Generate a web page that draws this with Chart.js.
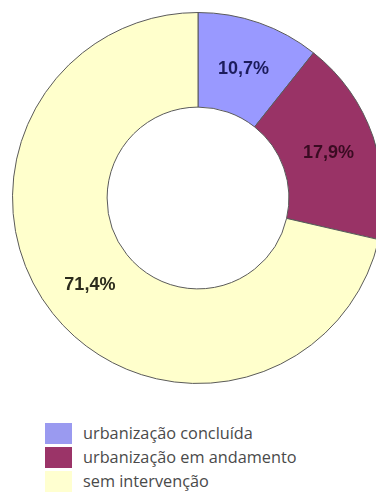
<!DOCTYPE html>
<html>
<head>
  <meta charset="utf-8" />
  <title>Situação das favelas</title>
  <script src="https://cdn.jsdelivr.net/npm/chart.js"></script>
  <style>
    html, body { margin: 0; padding: 0; background: #fff; overflow: hidden; }
    body { width: 376px; height: 498px; position: relative; }
    #wrap { position: absolute; left: 12px; top: 12px; width: 372px; height: 372px; }
    #legend { position: absolute; left: 45px; top: 421px; list-style: none; margin: 0; padding: 0;
      font-family: "Open Sans", Arial, sans-serif; font-size: 16.3px; color: #4a4a4a; }
    #legend li { height: 24px; display: flex; align-items: center; }
    #legend span.box { display: inline-block; width: 27px; height: 21px; margin-right: 11px; }
  </style>
</head>
<body>
  <div id="wrap"><canvas id="donut" width="372" height="372"></canvas></div>
  <ul id="legend"></ul>

  <script>
  const labels = ['urbanização concluída', 'urbanização em andamento', 'sem intervenção'];
  const shares = [10.7, 17.9, 71.4];
  const fills = ['#9999ff', '#993366', '#ffffcc'];
  const legendFills = ['#9a9af0', '#9b3468', '#ffffd0'];
  const labelColors = ['#1c1c5c', '#3a0b22', '#2b2b1c'];

  // percentage text in the middle of each ring segment
  const sliceLabels = {
    id: 'sliceLabels',
    afterDatasetsDraw(chart) {
      const ctx = chart.ctx;
      const meta = chart.getDatasetMeta(0);
      ctx.save();
      ctx.font = 'bold 18px "Liberation Sans", Arial, sans-serif';
      ctx.textAlign = 'center';
      ctx.textBaseline = 'middle';
      meta.data.forEach((arc, i) => {
        const p = arc.getCenterPoint();
        ctx.fillStyle = labelColors[i];
        ctx.fillText(shares[i].toFixed(1).replace('.', ',') + '%', p.x, p.y + 1);
      });
      ctx.restore();
    }
  };

  const chart = new Chart(document.getElementById('donut'), {
    type: 'doughnut',
    data: {
      labels: labels,
      datasets: [{
        data: shares,
        backgroundColor: fills,
        borderColor: '#5a5a5a',
        borderWidth: 1
      }]
    },
    options: {
      responsive: false,
      animation: false,
      cutout: '49%',
      layout: { padding: 0 },
      plugins: { legend: { display: false }, tooltip: { enabled: false } }
    },
    plugins: [sliceLabels]
  });

  // legend built from the chart data
  const legend = document.getElementById('legend');
  chart.data.labels.forEach((name, i) => {
    const li = document.createElement('li');
    li.innerHTML = `<span class="box" style="background:${legendFills[i]}"></span>${name}`;
    legend.appendChild(li);
  });
  </script>
</body>
</html>
